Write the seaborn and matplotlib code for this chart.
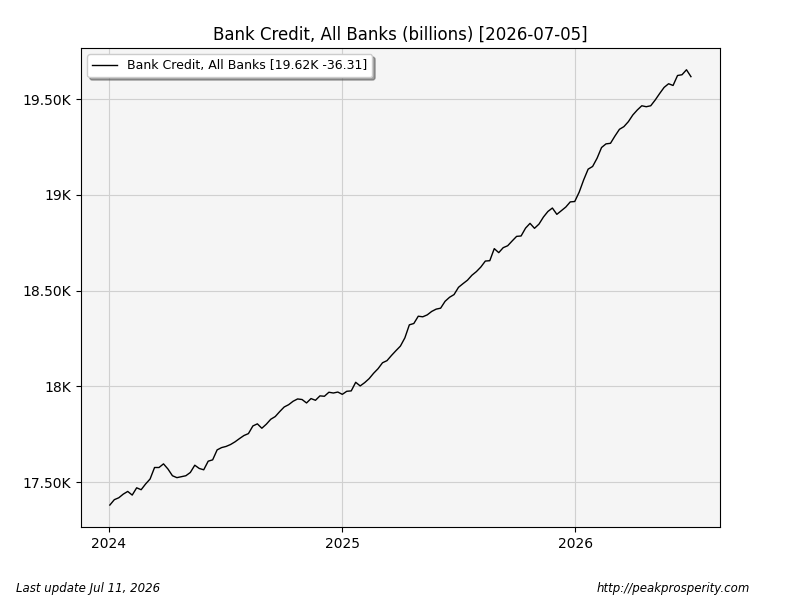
import pandas as pd
import numpy as np
import matplotlib
matplotlib.use("Agg")
import matplotlib.pyplot as plt
import matplotlib.dates as mdates
from matplotlib.ticker import FuncFormatter
import seaborn as sns

# weekly values (billions)
vals_2024 = [17380, 17408, 17418, 17437, 17451, 17432, 17470, 17460, 17490, 17516,
             17576, 17576, 17595, 17568, 17533, 17523, 17528, 17533, 17550, 17588,
             17571, 17564, 17609, 17616, 17668, 17680, 17686, 17696, 17710, 17727,
             17743, 17753, 17793, 17804, 17781, 17802, 17828, 17842, 17868, 17892,
             17904, 17922, 17934, 17931, 17913, 17936, 17927, 17950, 17948, 17969,
             17965, 17970, 17958, 17974, 17976]
vals_2025 = [18021, 18002, 18019, 18040, 18068, 18092, 18123, 18134, 18161, 18186,
             18210, 18253, 18321, 18328, 18366, 18363, 18373, 18391, 18403, 18408,
             18444, 18465, 18479, 18517, 18536, 18554, 18580, 18599, 18623, 18654,
             18656, 18719, 18698, 18724, 18734, 18759, 18783, 18785, 18826, 18851,
             18825, 18847, 18884, 18913, 18931, 18898, 18917, 18936, 18963, 18965,
             19014, 19078]
vals_2026 = [19134, 19148, 19191, 19247, 19266, 19269, 19307, 19342, 19356, 19382,
             19417, 19443, 19465, 19460, 19465, 19495, 19529, 19561, 19580, 19571,
             19623, 19627, 19653, 19617]

values = vals_2024 + vals_2025 + vals_2026
dates = pd.date_range("2024-01-03", periods=len(values), freq="7D")
df = pd.DataFrame({"date": dates, "value": values})

label = "Bank Credit, All Banks [19.62K -36.31]"

fig, ax = plt.subplots(figsize=(8, 6), dpi=100)
fig.subplots_adjust(left=0.101, right=0.9, top=0.92, bottom=0.122)
ax.set_facecolor("#f5f5f5")

sns.lineplot(data=df, x="date", y="value", ax=ax, color="black", linewidth=1, label=label)

ax.grid(True, color="#d0d0d0", linewidth=0.8)
ax.set_axisbelow(True)
ax.set_xlabel("")
ax.set_ylabel("")
ax.set_title("Bank Credit, All Banks (billions) [2026-07-05]", fontsize=12)

ax.xaxis.set_major_locator(mdates.YearLocator())
ax.xaxis.set_major_formatter(mdates.DateFormatter("%Y"))
ax.set_yticks([17500, 18000, 18500, 19000, 19500])


def kfmt(v, pos):
    k = v / 1000
    if abs(k - round(k)) < 1e-9:
        return "%dK" % round(k)
    return "%.2fK" % k


ax.yaxis.set_major_formatter(FuncFormatter(kfmt))

ax.legend(loc="upper left", fontsize=9, shadow=True, fancybox=True, handlelength=2.0)

fig.text(0.02, 0.013, "Last update Jul 11, 2026", fontsize=8.5, style="italic")
fig.text(0.937, 0.013, "http://peakprosperity.com", fontsize=8.5, style="italic", ha="right")

plt.savefig("out.png", dpi=100)
